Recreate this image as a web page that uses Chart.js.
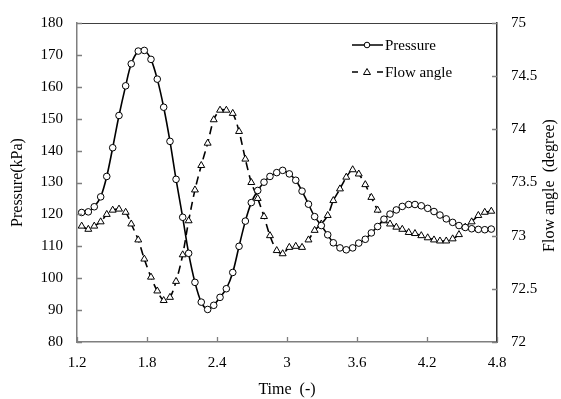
<!DOCTYPE html>
<html>
<head>
<meta charset="utf-8">
<script src="https://cdn.jsdelivr.net/npm/chart.js@4"></script>
<style>
  html, body { margin: 0; padding: 0; background: #fff; }
  #box { width: 561px; height: 399px; }
</style>
</head>
<body>
<div id="box"><canvas id="grafico"></canvas></div>
<script>
// dados
const tempo = [1.240, 1.297, 1.348, 1.403, 1.455, 1.506, 1.560, 1.617, 1.665, 1.725,
  1.777, 1.834, 1.888, 1.943, 1.997, 2.049, 2.106, 2.157, 2.211, 2.265,
  2.320, 2.372, 2.426, 2.480, 2.535, 2.589, 2.643, 2.694, 2.749, 2.803,
  2.854, 2.912, 2.963, 3.020, 3.075, 3.129, 3.184, 3.237, 3.294, 3.349,
  3.397, 3.454, 3.508, 3.563, 3.615, 3.671, 3.723, 3.777, 3.831, 3.883,
  3.937, 3.988, 4.043, 4.097, 4.151, 4.206, 4.260, 4.311, 4.365, 4.420,
  4.474, 4.528, 4.583, 4.640, 4.695, 4.751];

const pressao = [120.6, 120.8, 122.4, 125.5, 131.9, 140.9, 151.0, 160.3, 167.2, 171.2,
  171.4, 168.6, 162.4, 153.6, 142.9, 131.0, 119.1, 107.8, 98.7, 92.5,
  90.2, 91.5, 94.0, 96.7, 101.8, 110.0, 117.9, 123.7, 127.5, 130.1,
  131.9, 133.1, 133.8, 132.7, 130.7, 127.3, 123.2, 119.3, 116.5, 113.6,
  111.1, 109.5, 108.9, 109.5, 111.0, 112.2, 114.2, 116.2, 118.5, 120.1,
  121.4, 122.5, 123.1, 123.1, 122.7, 121.9, 120.9, 119.8, 118.6, 117.5,
  116.5, 115.9, 115.5, 115.3, 115.2, 115.4];

const angulo = [73.09, 73.06, 73.09, 73.13, 73.20, 73.24, 73.25, 73.22, 73.11, 72.96,
  72.78, 72.61, 72.48, 72.39, 72.42, 72.57, 72.82, 73.14, 73.43, 73.66,
  73.87, 74.09, 74.18, 74.18, 74.15, 73.98, 73.72, 73.50, 73.35, 73.18,
  73.00, 72.86, 72.83, 72.89, 72.90, 72.89, 72.96, 73.05, 73.11, 73.19,
  73.33, 73.44, 73.55, 73.62, 73.58, 73.48, 73.36, 73.24, 73.14, 73.11,
  73.08, 73.06, 73.03, 73.02, 73.00, 72.98, 72.96, 72.95, 72.95, 72.97,
  73.01, 73.08, 73.13, 73.19, 73.22, 73.23];

const ticksX = [1.2, 1.8, 2.4, 3, 3.6, 4.2, 4.8];
const ticksPressao = [80, 90, 100, 110, 120, 130, 140, 150, 160, 170, 180];
const ticksAngulo = [72, 72.5, 73, 73.5, 74, 74.5, 75];

const fonte = 'Liberation Serif, Times New Roman, serif';
const cinza = '#7f7f7f';

function pontos(valores) {
  return tempo.map((t, i) => ({ x: t, y: valores[i] }));
}

// moldura, marcas internas, legenda e titulo da direita
const extras = {
  id: 'extras',
  afterDraw(chart) {
    const ctx = chart.ctx;
    const a = chart.chartArea;
    const sx = chart.scales.x, sy = chart.scales.y, sy1 = chart.scales.y1;
    ctx.save();
    ctx.strokeStyle = '#404040';
    ctx.lineWidth = 1.2;
    ctx.beginPath();
    ctx.moveTo(a.left, a.top + 0.5);
    ctx.lineTo(a.right, a.top + 0.5);
    ctx.stroke();

    ctx.strokeStyle = cinza;
    ctx.lineWidth = 1.3;
    ctx.beginPath();
    ticksX.forEach(v => {
      const px = Math.round(sx.getPixelForValue(v)) + 0.5;
      ctx.moveTo(px, a.bottom);
      ctx.lineTo(px, a.bottom - 5);
    });
    ticksPressao.forEach(v => {
      const py = Math.round(sy.getPixelForValue(v)) + 0.5;
      ctx.moveTo(a.left, py);
      ctx.lineTo(a.left + 5, py);
    });
    ticksAngulo.forEach(v => {
      const py = Math.round(sy1.getPixelForValue(v)) + 0.5;
      ctx.moveTo(a.right, py);
      ctx.lineTo(a.right - 5, py);
    });
    ctx.stroke();

    // legenda
    ctx.fillStyle = '#000';
    ctx.font = '15px ' + fonte;
    ctx.textBaseline = 'middle';
    ctx.strokeStyle = '#000';
    ctx.lineWidth = 1.5;
    let y = 45;
    ctx.beginPath();
    ctx.moveTo(352, y); ctx.lineTo(383, y);
    ctx.stroke();
    ctx.beginPath();
    ctx.fillStyle = '#fff';
    ctx.lineWidth = 1;
    ctx.arc(367, y, 2.8, 0, Math.PI * 2);
    ctx.fill(); ctx.stroke();
    ctx.fillStyle = '#000';
    ctx.fillText('Pressure', 385, y + 1);

    y = 72;
    ctx.lineWidth = 1.5;
    ctx.beginPath();
    ctx.moveTo(352, y); ctx.lineTo(358, y);
    ctx.moveTo(377, y); ctx.lineTo(383, y);
    ctx.stroke();
    ctx.lineWidth = 1;
    ctx.beginPath();
    ctx.moveTo(367, y - 3.5);
    ctx.lineTo(370.5, y + 2.5);
    ctx.lineTo(363.5, y + 2.5);
    ctx.closePath();
    ctx.fillStyle = '#fff';
    ctx.fill(); ctx.stroke();
    ctx.fillStyle = '#000';
    ctx.fillText('Flow angle', 385, y + 1);

    // titulo do eixo direito (de baixo para cima)
    ctx.translate(550, (a.top + a.bottom) / 2 + 3);
    ctx.rotate(-Math.PI / 2);
    ctx.textAlign = 'center';
    ctx.font = '16px ' + fonte;
    ctx.fillText('Flow angle  (degree)', 0, 0);
    ctx.restore();
  }
};

function criarGrafico() {
  const canvas = document.getElementById('grafico');
  const contexto = canvas.getContext('2d');

  new Chart(contexto, {
    type: 'line',
    data: {
      datasets: [
        {
          label: 'Pressure',
          data: pontos(pressao),
          yAxisID: 'y',
          borderColor: '#000',
          borderWidth: 1.6,
          tension: 0.3,
          pointStyle: 'circle',
          pointRadius: 3.3,
          pointBorderWidth: 1,
          pointBackgroundColor: '#fff',
          pointBorderColor: '#000',
        },
        {
          label: 'Flow angle',
          data: pontos(angulo),
          yAxisID: 'y1',
          borderColor: '#000',
          borderWidth: 1.6,
          borderDash: [8, 5],
          tension: 0.3,
          pointStyle: 'triangle',
          pointRadius: 4,
          pointBorderWidth: 1,
          pointBackgroundColor: '#fff',
          pointBorderColor: '#000',
        },
      ],
    },
    options: {
      responsive: true,
      maintainAspectRatio: false,
      animation: false,
      layout: { padding: { top: 17, left: 0, right: 0, bottom: 0 } },
      plugins: {
        legend: { display: false },
        tooltip: { enabled: false },
      },
      scales: {
        x: {
          type: 'linear',
          min: 1.2,
          max: 4.8,
          afterBuildTicks: (s) => { s.ticks = ticksX.map(v => ({ value: v })); },
          afterFit: (s) => { s.height = 57; },
          grid: { drawOnChartArea: false, drawTicks: false },
          border: { color: cinza, width: 1.5 },
          ticks: {
            padding: 12,
            color: '#000',
            font: { family: fonte, size: 15 },
            callback: (v) => String(+v.toFixed(1)),
          },
          title: {
            display: true,
            text: 'Time  (-)',
            color: '#000',
            font: { family: fonte, size: 16 },
            padding: { top: 0, bottom: 0 },
          },
        },
        y: {
          position: 'left',
          min: 80,
          max: 180,
          afterBuildTicks: (s) => { s.ticks = ticksPressao.map(v => ({ value: v })); },
          afterFit: (s) => { s.width = 77; },
          grid: { drawOnChartArea: false, drawTicks: false },
          border: { color: cinza, width: 1.5 },
          ticks: {
            padding: 14,
            color: '#000',
            font: { family: fonte, size: 15 },
          },
          title: {
            display: true,
            text: 'Pressure(kPa)',
            color: '#000',
            font: { family: fonte, size: 16 },
            padding: { top: 8, bottom: 0 },
          },
        },
        y1: {
          position: 'right',
          min: 72,
          max: 75,
          afterBuildTicks: (s) => { s.ticks = ticksAngulo.map(v => ({ value: v })); },
          afterFit: (s) => { s.width = 64; },
          grid: { drawOnChartArea: false, drawTicks: false },
          border: { color: '#303030', width: 1.5 },
          ticks: {
            padding: 14,
            color: '#000',
            font: { family: fonte, size: 15 },
            callback: (v) => String(v),
          },
        },
      },
    },
    plugins: [extras],
  });
}

document.addEventListener('DOMContentLoaded', criarGrafico);
</script>
</body>
</html>
